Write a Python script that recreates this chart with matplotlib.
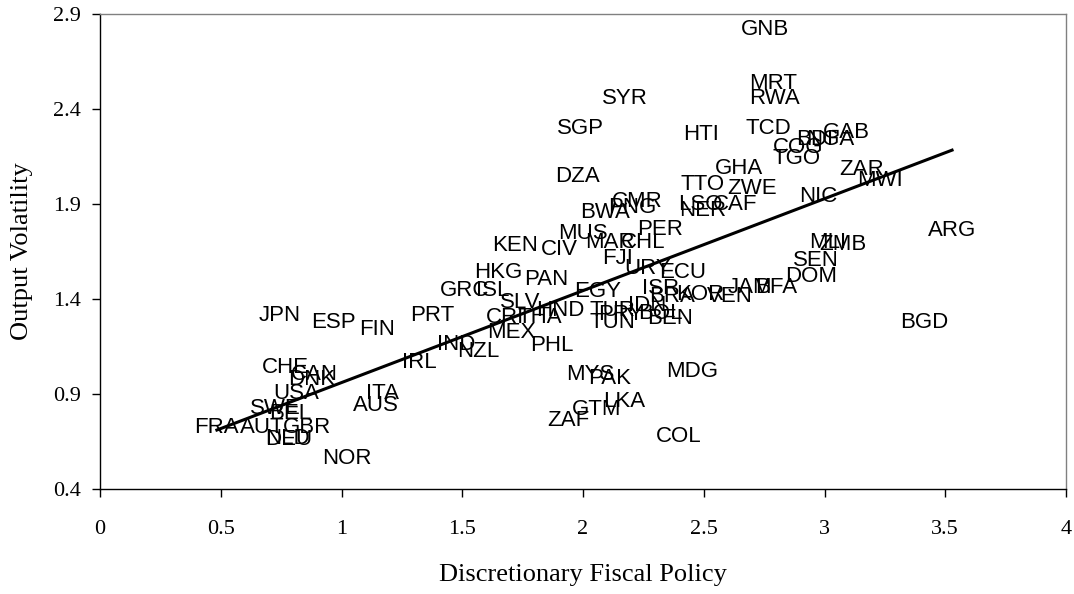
import matplotlib
matplotlib.use('Agg')
import numpy as np
import matplotlib.pyplot as plt

# Country codes and (fiscal policy, volatility)
codes = ['GNB', 'MRT', 'RWA', 'SYR', 'HTI', 'TCD', 'GAB', 'BDI', 'NGA', 'COG',
         'TGO', 'SGP', 'DZA', 'GHA', 'ZAR', 'MWI', 'TTO', 'ZWE', 'NIC', 'LSO',
         'CAF', 'NER', 'CMR', 'PNG', 'BWA', 'PER', 'MUS', 'MAR', 'CHL', 'KEN',
         'CIV', 'FJI', 'URY', 'ECU', 'HKG', 'PAN', 'GRC', 'ISL', 'EGY', 'ISR',
         'BRA', 'KOR', 'VEN', 'JAM', 'BFA', 'DOM', 'SEN', 'MLI', 'ZMB', 'ARG',
         'BGD', 'TUR', 'PRY', 'IDN', 'BOL', 'BEN', 'TUN', 'SLV', 'HND', 'CRI',
         'THA', 'MEX', 'PHL', 'IND', 'NZL', 'IRL', 'PRT', 'FIN', 'ESP', 'JPN',
         'CHE', 'CAN', 'DNK', 'USA', 'ITA', 'AUS', 'SWE', 'BEL', 'FRA', 'AUT',
         'GBR', 'NLD', 'DEU', 'NOR', 'MYS', 'PAK', 'MDG', 'LKA', 'GTM', 'ZAF',
         'COL']
fiscal = [2.754, 2.787, 2.791, 2.174, 2.489, 2.766, 3.089, 2.961, 3.023, 2.890,
          2.886, 1.988, 1.979, 2.646, 3.155, 3.230, 2.497, 2.700, 2.973, 2.484,
          2.629, 2.497, 2.224, 2.203, 2.091, 2.319, 2.000, 2.112, 2.248, 1.718,
          1.901, 2.145, 2.269, 2.414, 1.648, 1.847, 1.511, 1.627, 2.062, 2.323,
          2.368, 2.484, 2.609, 2.692, 2.799, 2.944, 2.965, 3.014, 3.077, 3.528,
          3.412, 2.120, 2.155, 2.265, 2.319, 2.360, 2.120, 1.739, 1.905, 1.677,
          1.822, 1.702, 1.872, 1.474, 1.565, 1.321, 1.375, 1.147, 0.965, 0.745,
          0.766, 0.886, 0.878, 0.812, 1.168, 1.143, 0.725, 0.787, 0.484, 0.671,
          0.857, 0.778, 0.783, 1.023, 2.029, 2.112, 2.451, 2.170, 2.058, 1.938,
          2.398]
volatility = [2.816, 2.532, 2.453, 2.453, 2.268, 2.295, 2.274, 2.242, 2.237, 2.195,
              2.142, 2.295, 2.047, 2.089, 2.084, 2.026, 2.005, 1.979, 1.942, 1.895,
              1.895, 1.868, 1.911, 1.879, 1.853, 1.768, 1.747, 1.695, 1.695, 1.684,
              1.658, 1.611, 1.563, 1.542, 1.537, 1.500, 1.447, 1.447, 1.437, 1.453,
              1.411, 1.426, 1.411, 1.458, 1.458, 1.521, 1.600, 1.695, 1.689, 1.758,
              1.274, 1.337, 1.316, 1.368, 1.326, 1.295, 1.274, 1.379, 1.342, 1.300,
              1.300, 1.226, 1.153, 1.163, 1.126, 1.068, 1.311, 1.237, 1.274, 1.311,
              1.042, 1.005, 0.974, 0.900, 0.905, 0.837, 0.821, 0.795, 0.721, 0.721,
              0.721, 0.668, 0.658, 0.563, 1.005, 0.984, 1.016, 0.863, 0.816, 0.763,
              0.674]

# fitted line
fit_slope = 0.484
fit_intercept = 0.476

x_ticks = [0, 0.5, 1, 1.5, 2, 2.5, 3, 3.5, 4]
x_ticklabels = ['0', '0.5', '1', '1.5', '2', '2.5', '3', '3.5', '4']
y_ticks = [0.4, 0.9, 1.4, 1.9, 2.4, 2.9]
y_ticklabels = ['0.4', '0.9', '1.4', '1.9', '2.4', '2.9']

serif = 'Liberation Serif'
sans = 'Liberation Sans'

fig = plt.figure(figsize=(10.74, 5.94), dpi=100)
ax = fig.add_axes([0.0931, 0.1768, 0.8995, 0.7996])

for c, xv, yv in zip(codes, fiscal, volatility):
    ax.text(xv, yv, c, ha='center', va='center', fontsize=16,
            family=sans, color='black')

xf = np.array([min(fiscal), max(fiscal)])
ax.plot(xf, fit_intercept + fit_slope * xf, color='black', lw=2.2)

ax.set_xlim(0, 4)
ax.set_ylim(0.4, 2.9)
ax.set_xticks(x_ticks)
ax.set_xticklabels(x_ticklabels, family=serif, fontsize=16)
ax.set_yticks(y_ticks)
ax.set_yticklabels(y_ticklabels, family=serif, fontsize=16)
ax.tick_params(axis='x', direction='out', length=6, pad=16, width=1)
ax.tick_params(axis='y', direction='out', length=6, pad=8, width=1)

for side in ['top', 'right']:
    ax.spines[side].set_color('#808080')
for side in ['left', 'bottom']:
    ax.spines[side].set_color('black')
for s in ax.spines.values():
    s.set_linewidth(1)

ax.set_xlabel('Discretionary Fiscal Policy', family=serif, fontsize=19, labelpad=18)
ax.set_ylabel('Output Volatility', family=serif, fontsize=19, labelpad=14)

fig.savefig('out.png', dpi=100)
